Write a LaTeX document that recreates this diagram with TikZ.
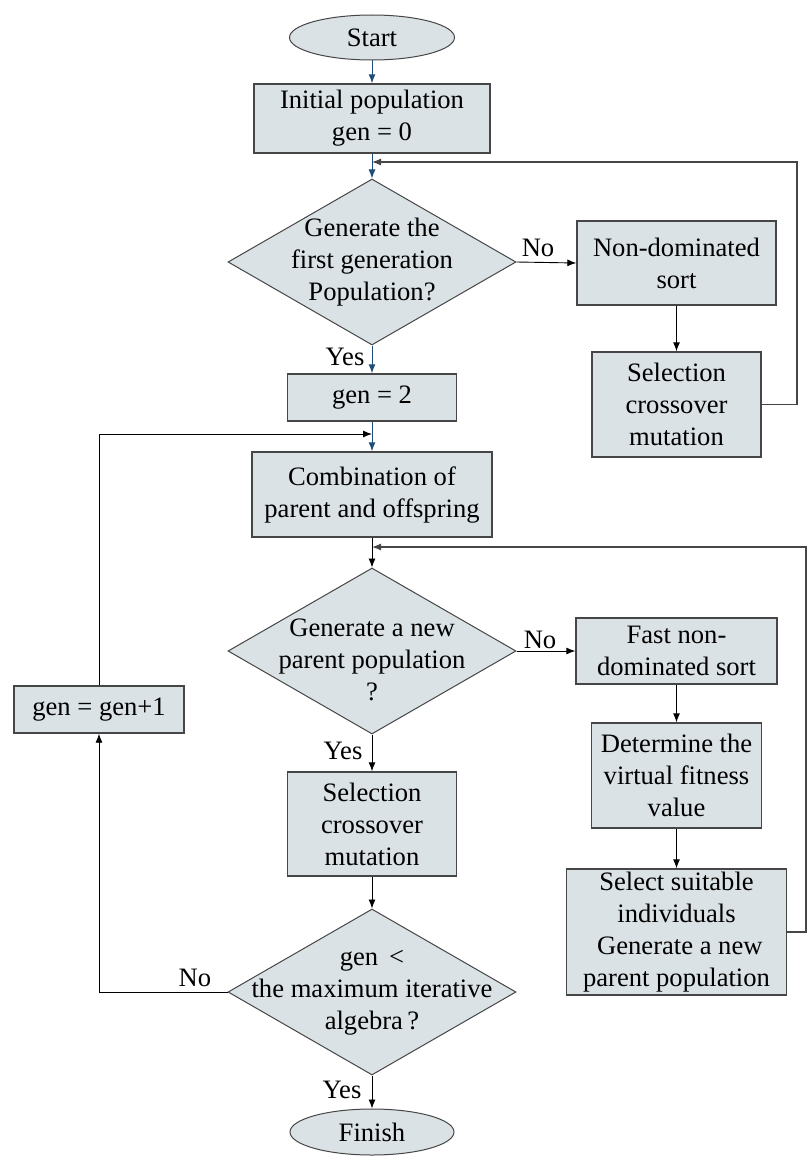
\documentclass[tikz,border=0pt]{standalone}
\usepackage{fontspec}
\setmainfont{Liberation Serif}
\usetikzlibrary{shapes.geometric,arrows.meta}
\definecolor{boxfill}{RGB}{218,226,229}
\definecolor{boxline}{RGB}{70,70,70}
\definecolor{navy}{RGB}{31,78,121}
\begin{document}
\begin{tikzpicture}[x=1pt,y=-1pt,
  every node/.style={font=\fontsize{26.6}{32}\selectfont},
  box/.style={draw=boxline,line width=1.4pt,fill=boxfill,rectangle,align=center,inner sep=0pt},
  dia/.style={draw=boxline,line width=1pt,fill=boxfill,diamond,inner sep=0pt,minimum width=288pt,minimum height=166pt},
  term/.style={draw=boxline,line width=1pt,fill=boxfill,ellipse,inner sep=0pt},
  arr/.style={draw=black,line width=0.9pt,-{Latex[length=9pt,width=7pt]}},
  navyarr/.style={draw=navy,line width=1pt,-{Latex[length=9pt,width=7pt]}},
  gline/.style={draw=boxline,line width=1.2pt},
  lbl/.style={inner sep=0pt,align=center}]
\useasboundingbox (0,0) rectangle (807,1156);

% nodes
\node[term,minimum width=165pt,minimum height=45pt] (start) at (372,37.5) {Start};
\node[box,minimum width=236pt,minimum height=69pt] (init) at (372,118.5) {Initial population\\gen = 0};
\node[dia] (d1) at (372,262) {};
\node[lbl] (d1t) at (372,262) {Generate the\\first generation\\Population?};
\node[box,minimum width=199pt,minimum height=84pt] (nd) at (676.5,263) {Non-dominated\\sort};
\node[box,minimum width=169pt,minimum height=105pt] (sel1) at (676.5,404.5) {Selection\\crossover\\mutation};
\node[box,minimum width=169pt,minimum height=47pt] (g2) at (372,397.5) {gen = 2};
\node[box,minimum width=240pt,minimum height=85pt] (comb) at (372,494.5) {Combination of\\parent and offspring};
\node[dia] (d2) at (372,651) {};
\node[lbl] (d2t) at (372,660) {Generate a new\\parent population\\?};
\node[box,minimum width=201pt,minimum height=66pt] (fns) at (676.5,651) {Fast non-\\dominated sort};
\node[box,minimum width=170pt,minimum height=105pt] (det) at (676.5,775.5) {Determine the\\virtual fitness\\value};
\node[box,minimum width=220pt,minimum height=126pt] (ss) at (676.5,932) {Select suitable\\individuals\\\ Generate a new\\parent population};
\node[box,minimum width=170pt,minimum height=47pt] (gg) at (99,709.5) {gen = gen+1};
\node[box,minimum width=169pt,minimum height=104pt] (sel2) at (372,824) {Selection\\crossover\\mutation};
\node[dia] (d3) at (372,992) {};
\node[lbl] (d3t) at (372,993) {gen \,<\\the maximum iterative\\algebra\,?};
\node[term,minimum width=164pt,minimum height=46pt] (fin) at (372,1132) {Finish};

% junction coordinates
\coordinate (j1) at (372,162);
\coordinate (r1) at (797,162);
\coordinate (j2) at (372,434);
\coordinate (j3) at (372,547);
\coordinate (r2) at (806,547);

% labels
\node[lbl] (no1) at (538,248) {No};
\node[lbl] (yes1) at (345,357) {Yes};
\node[lbl] (no2) at (540,640) {No};
\node[lbl] (yes2) at (343,751) {Yes};
\node[lbl] (no3) at (195,978) {No};
\node[lbl] (yes3) at (342,1090) {Yes};

% connectors
\draw[navyarr] (start) -- (init);
\draw[navyarr] (init) -- (d1);
\draw[gline,-{Latex[length=9pt,width=7pt]}] (sel1.east) -| (r1) -- (j1);
\draw[arr] (d1.east) -- (nd.west);
\draw[arr] (nd) -- (sel1);
\draw[navyarr] (d1) -- (g2);
\draw[navyarr] (g2) -- (comb);
\draw[arr] (gg.north) |- (j2);
\draw[arr] (comb) -- (d2);
\draw[gline,-{Latex[length=9pt,width=7pt]}] (ss.east) -| (r2) -- (j3);
\draw[arr] (d2.east) -- (fns.west);
\draw[arr] (fns) -- (det);
\draw[arr] (det) -- (ss);
\draw[arr] (d2) -- (sel2);
\draw[arr] (sel2) -- (d3);
\draw[arr] (d3.west) -| (gg.south);
\draw[arr] (d3) -- (fin);
\end{tikzpicture}
\end{document}
